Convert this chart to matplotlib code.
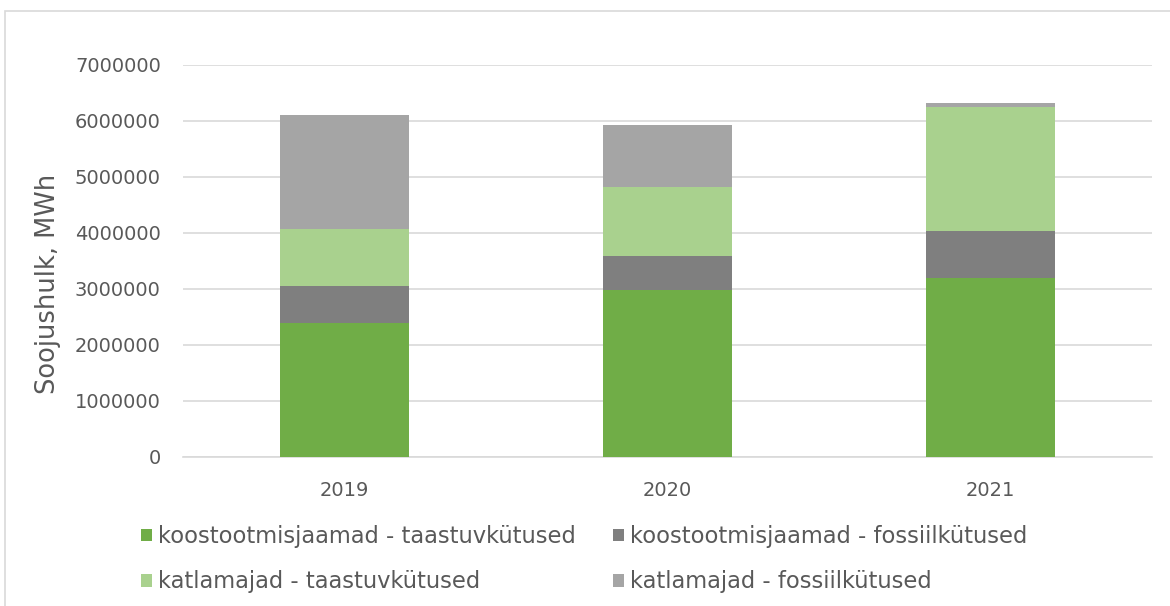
import matplotlib.pyplot as plt
from matplotlib.patches import Rectangle
import numpy as np

plt.rcParams['font.family'] = 'DejaVu Sans'

years = ['2019', '2020', '2021']
# MWh per source
chp_renewable = [2390000, 2977000, 3190000]
chp_fossil = [670000, 618000, 850000]
boiler_renewable = [1005000, 1225000, 2210000]
boiler_fossil = [2042000, 1110000, 65000]

labels = ['koostootmisjaamad - taastuvkütused',
          'koostootmisjaamad - fossiilkütused',
          'katlamajad - taastuvkütused',
          'katlamajad - fossiilkütused']
colors = ['#70AD47', '#7F7F7F', '#A9D18E', '#A5A5A5']
text_col = '#595959'

fig = plt.figure(figsize=(11.7, 6.06), dpi=100)
ax = fig.add_axes([183/1170, 1 - 457/606, (1152 - 183)/1170, (457 - 65)/606])

x = np.arange(len(years))
bottom = np.zeros(len(years))
bars = []
for vals, c, lab in zip([chp_renewable, chp_fossil, boiler_renewable, boiler_fossil], colors, labels):
    b = ax.bar(x, vals, width=0.4, bottom=bottom, color=c, label=lab, zorder=3)
    bars.append(b)
    bottom += np.array(vals)

ax.set_xlim(-0.5, 2.5)
ax.set_ylim(0, 7000000)
ax.set_yticks(np.arange(0, 7000001, 1000000))
ax.set_yticklabels([str(v) for v in range(0, 7000001, 1000000)])
ax.set_xticks(x)
ax.set_xticklabels(years)
ax.tick_params(axis='y', length=0, pad=16, labelsize=14, labelcolor=text_col)
ax.tick_params(axis='x', length=0, pad=17, labelsize=14, labelcolor=text_col)
ax.grid(axis='y', color='#D9D9D9', linewidth=1.2, zorder=0)
for s in ['top', 'right', 'left']:
    ax.spines[s].set_visible(False)
ax.spines['bottom'].set_color('#D9D9D9')
ax.spines['bottom'].set_linewidth(1.2)

fig.text(48/1170, 1 - 284/606, 'Soojushulk, MWh', rotation=90, ha='center', va='center',
         fontsize=18.5, color=text_col)

handles = [bars[0], bars[2], bars[1], bars[3]]
leg_labels = [labels[0], labels[2], labels[1], labels[3]]
fig.legend(handles, leg_labels, ncol=2, loc='upper left',
           bbox_to_anchor=(141/1170, 1 - 525/606), frameon=False,
           borderpad=0, borderaxespad=0,
           fontsize=16.3, labelcolor=text_col, handlelength=0.5, handleheight=0.5,
           handletextpad=0.25, columnspacing=1.65, labelspacing=0.98)

# chart frame
fig.patches.append(Rectangle((5/1170, -0.1), 1.2, 1 - 11/606 + 0.1, transform=fig.transFigure,
                             fill=False, edgecolor='#D9D9D9', linewidth=1.2))

fig.savefig('out.png', dpi=100)
